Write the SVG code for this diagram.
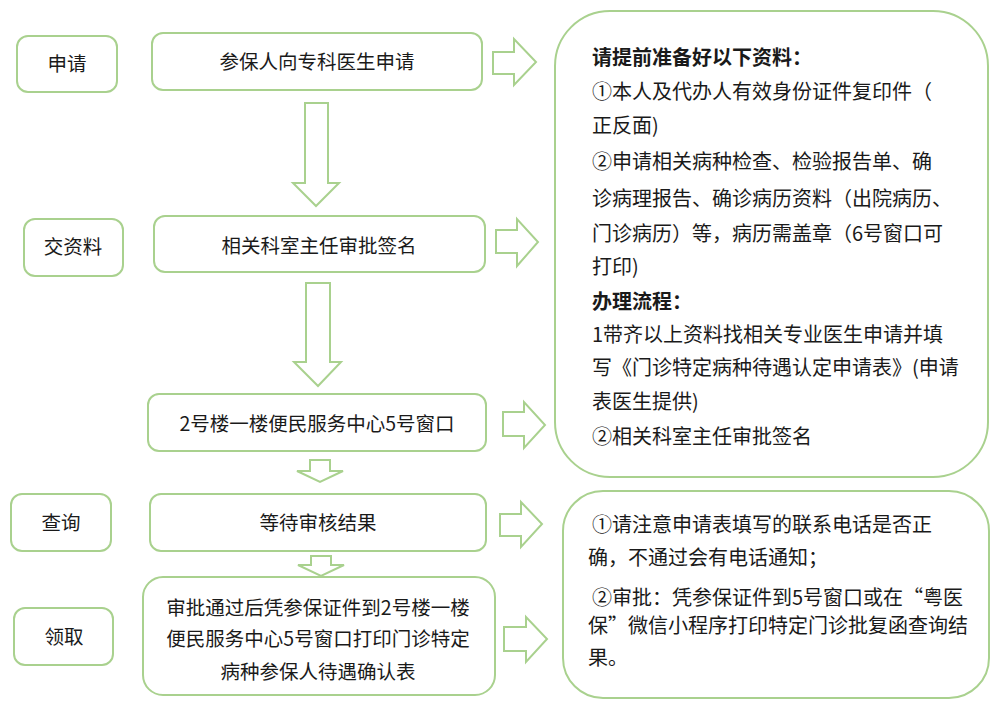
<svg xmlns="http://www.w3.org/2000/svg" width="1000" height="709" viewBox="0 0 1000 709">
<style>
.box{fill:#fff;stroke:#a9d18e;stroke-width:2}
.arr{fill:#fff;stroke:#a9d18e;stroke-width:2;stroke-linejoin:miter}
text{font-family:"Noto Sans CJK SC","Noto Sans",sans-serif;fill:#1a1a1a}
.c{font-size:19.5px;text-anchor:middle}
.r{font-size:20px}
.b{font-weight:bold}
</style>
<rect width="1000" height="709" fill="#fff"/>
<g id="connectors">
<polygon class="arr" points="493,52 514,52 514,39 536,62 514,85 514,74 493,74"/>
<polygon class="arr" points="496,230 517,230 517,219 538,242 517,266 517,253 496,253"/>
<polygon class="arr" points="503,412 524,412 524,402 545,425 524,448 524,436 503,436"/>
<polygon class="arr" points="500,514 521,514 521,502 542,524 521,547 521,536 500,536"/>
<polygon class="arr" points="504,627 526,627 526,617 547,639 526,662 526,651 504,651"/>
<polygon class="arr" points="305,103 328,103 328,183 339,183 316,206 293,183 305,183"/>
<polygon class="arr" points="306,283 330,283 330,362 341,362 318,386 294,362 306,362"/>
<polygon class="arr" points="310,460 330,460 330,471 343,471 320,482 297,471 310,471"/>
<polygon class="arr" points="311,556 331,556 331,565 344,565 321,576 298,565 311,565"/>
</g>
<g id="label-shenqing"><rect class="box" x="17" y="36" width="100" height="56" rx="11"/><text class="c" x="67" y="71">申请</text></g>
<g id="label-jiaoziliao"><rect class="box" x="24" y="219" width="99" height="57" rx="11"/><text class="c" x="73" y="254">交资料</text></g>
<g id="label-chaxun"><rect class="box" x="11" y="494" width="100" height="57" rx="11"/><text class="c" x="61" y="530">查询</text></g>
<g id="label-lingqu"><rect class="box" x="14" y="608" width="99" height="57" rx="11"/><text class="c" x="64" y="644">领取</text></g>
<g id="step1"><rect class="box" x="152" y="33" width="330" height="57" rx="11"/><text class="c" x="317" y="69">参保人向专科医生申请</text></g>
<g id="step2"><rect class="box" x="154" y="216" width="331" height="56" rx="11"/><text class="c" x="319" y="253">相关科室主任审批签名</text></g>
<g id="step3"><rect class="box" x="148" y="394" width="338" height="57" rx="11"/><text class="c" x="317" y="431">2号楼一楼便民服务中心5号窗口</text></g>
<g id="step4"><rect class="box" x="150" y="494" width="336" height="57" rx="11"/><text class="c" x="318" y="530">等待审核结果</text></g>
<g id="step5"><rect class="box" x="143" y="577" width="352" height="118" rx="20"/>
<text class="c" x="318" y="615">审批通过后凭参保证件到2号楼一楼</text>
<text class="c" x="318" y="646">便民服务中心5号窗口打印门诊特定</text>
<text class="c" x="318" y="679">病种参保人待遇确认表</text></g>
<g id="note1"><rect class="box" x="555" y="11" width="433" height="466" rx="55"/>
<text class="r b" x="592" y="65">请提前准备好以下资料：</text>
<text class="r" x="592" y="99">①本人及代办人有效身份证件复印件（</text>
<text class="r" x="592" y="133">正反面)</text>
<text class="r" x="592" y="169">②申请相关病种检查、检验报告单、确</text>
<text class="r" x="592" y="206">诊病理报告、确诊病历资料（出院病历、</text>
<text class="r" x="592" y="241">门诊病历）等，病历需盖章（6号窗口可</text>
<text class="r" x="592" y="274">打印)</text>
<text class="r b" x="592" y="309">办理流程：</text>
<text class="r" x="592" y="342">1带齐以上资料找相关专业医生申请并填</text>
<text class="r" x="592" y="375">写《门诊特定病种待遇认定申请表》(申请</text>
<text class="r" x="592" y="409">表医生提供)</text>
<text class="r" x="592" y="444">②相关科室主任审批签名</text></g>
<g id="note2"><rect class="box" x="563" y="491" width="426" height="207" rx="40"/>
<text class="r" x="592" y="532">①请注意申请表填写的联系电话是否正</text>
<text class="r" x="588" y="565">确，不通过会有电话通知；</text>
<text class="r" x="592" y="605">②审批：凭参保证件到5号窗口或在“粤医</text>
<text class="r" x="588" y="633">保”微信小程序打印特定门诊批复函查询结</text>
<text class="r" x="588" y="665">果。</text></g>
</svg>
